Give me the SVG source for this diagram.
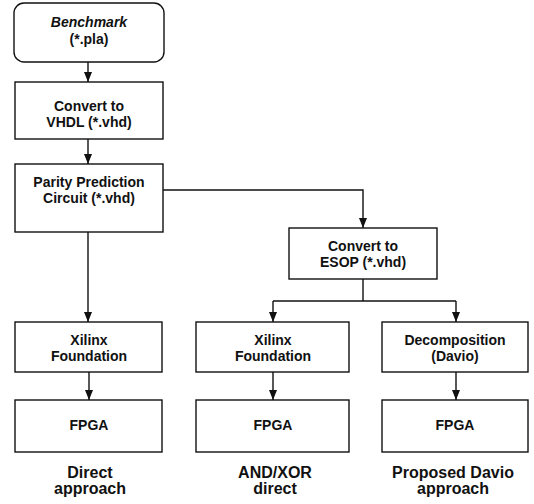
<svg xmlns="http://www.w3.org/2000/svg" width="534" height="504" viewBox="0 0 534 504">
<style>
.box{fill:#fff;stroke:#111;stroke-width:1.4}
.t{font-family:"Liberation Sans",Arial,sans-serif;font-weight:bold;font-size:14px;fill:#111;text-anchor:middle}
.lab{font-family:"Liberation Sans",Arial,sans-serif;font-weight:bold;font-size:16px;fill:#111;text-anchor:middle}
.c{fill:none;stroke:#111;stroke-width:1.4}
</style>
<defs>
<marker id="ah" markerWidth="10" markerHeight="10" viewBox="0 0 10 10" refX="10" refY="5" orient="auto" markerUnits="userSpaceOnUse">
<path d="M0,1 L10,5 L0,9 Z" fill="#111"/>
</marker>
</defs>
<g id="connectors">
<path class="c" d="M88,62 V82" marker-end="url(#ah)"/>
<path class="c" d="M88,139 V164" marker-end="url(#ah)"/>
<path class="c" d="M88,232 V322" marker-end="url(#ah)"/>
<path class="c" d="M163,190 H363 V228" marker-end="url(#ah)"/>
<path class="c" d="M363,279 V301"/>
<path class="c" d="M273,301 H456"/>
<path class="c" d="M273,301 V322" marker-end="url(#ah)"/>
<path class="c" d="M456,301 V322" marker-end="url(#ah)"/>
<path class="c" d="M89,372 V400" marker-end="url(#ah)"/>
<path class="c" d="M273,372 V400" marker-end="url(#ah)"/>
<path class="c" d="M456,372 V400" marker-end="url(#ah)"/>
</g>
<g id="benchmark">
<rect class="box" x="14" y="3" width="150" height="59" rx="10"/>
<text class="t" x="89" y="27" font-style="italic">Benchmark</text>
<text class="t" x="89" y="44">(*.pla)</text>
</g>
<g id="vhdl">
<rect class="box" x="15" y="82" width="148" height="57"/>
<text class="t" x="89" y="111">Convert to</text>
<text class="t" x="89" y="127">VHDL (*.vhd)</text>
</g>
<g id="parity">
<rect class="box" x="15" y="164" width="148" height="68"/>
<text class="t" x="89" y="187">Parity Prediction</text>
<text class="t" x="89" y="203">Circuit (*.vhd)</text>
</g>
<g id="esop">
<rect class="box" x="289" y="228" width="148" height="51"/>
<text class="t" x="363" y="251">Convert to</text>
<text class="t" x="363" y="267">ESOP (*.vhd)</text>
</g>
<g id="xilinx1">
<rect class="box" x="15" y="322" width="147" height="50"/>
<text class="t" x="89" y="345">Xilinx</text>
<text class="t" x="89" y="361">Foundation</text>
</g>
<g id="xilinx2">
<rect class="box" x="196" y="322" width="153" height="50"/>
<text class="t" x="273" y="345">Xilinx</text>
<text class="t" x="273" y="361">Foundation</text>
</g>
<g id="davio">
<rect class="box" x="382" y="322" width="146" height="50"/>
<text class="t" x="455" y="345">Decomposition</text>
<text class="t" x="455" y="361">(Davio)</text>
</g>
<g id="fpga1">
<rect class="box" x="15" y="400" width="147" height="52"/>
<text class="t" x="89" y="430">FPGA</text>
</g>
<g id="fpga2">
<rect class="box" x="196" y="400" width="153" height="52"/>
<text class="t" x="273" y="430">FPGA</text>
</g>
<g id="fpga3">
<rect class="box" x="382" y="400" width="146" height="52"/>
<text class="t" x="455" y="430">FPGA</text>
</g>
<g id="labels">
<text class="lab" x="90" y="478">Direct</text>
<text class="lab" x="90" y="494">approach</text>
<text class="lab" x="275" y="478">AND/XOR</text>
<text class="lab" x="275" y="494">direct</text>
<text class="lab" x="453" y="478">Proposed Davio</text>
<text class="lab" x="453" y="494">approach</text>
</g>
</svg>
